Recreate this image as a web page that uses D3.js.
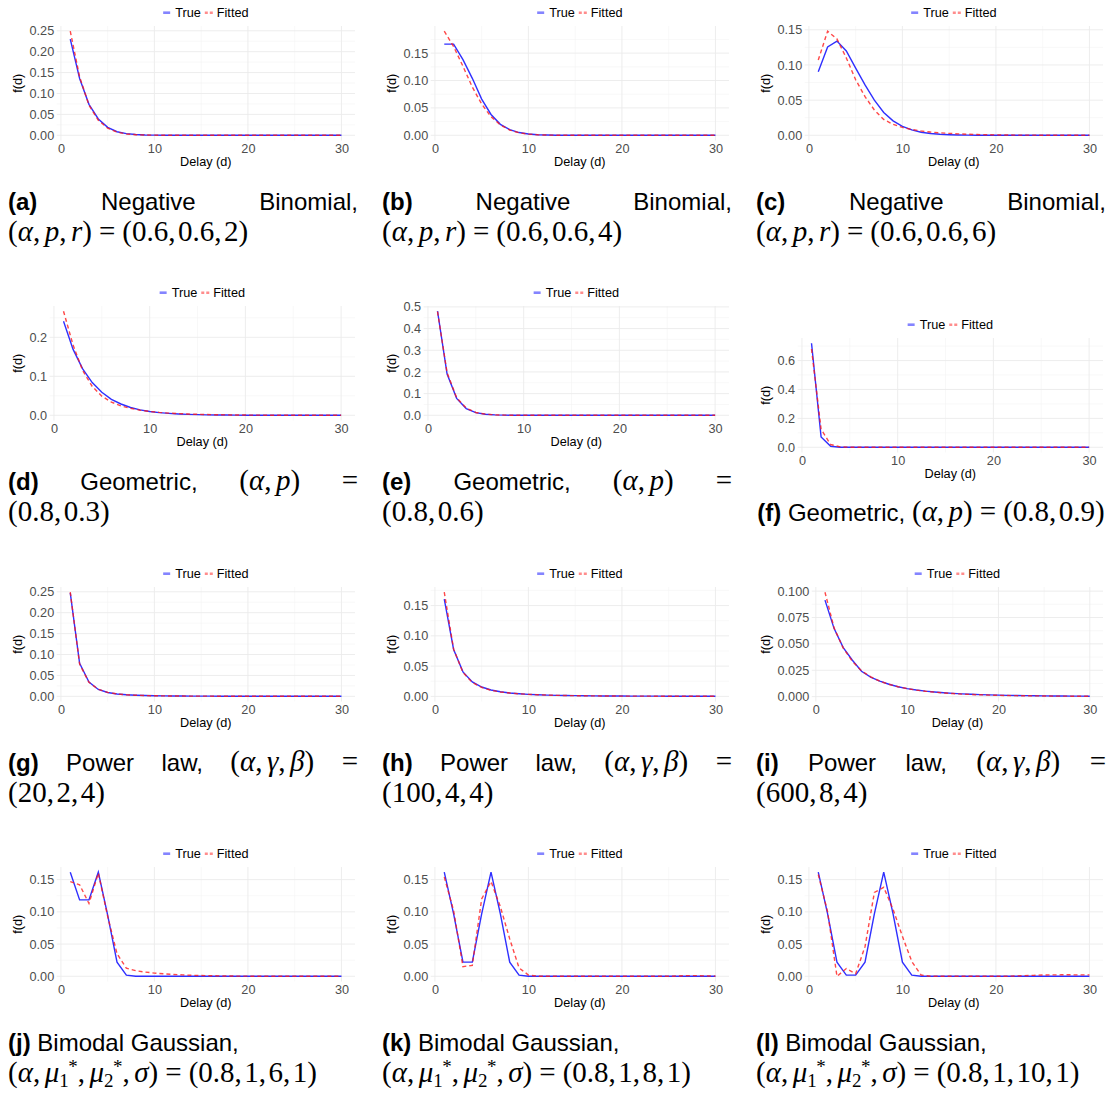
<!DOCTYPE html>
<html>
<head>
<meta charset="utf-8">
<script src="https://cdn.jsdelivr.net/npm/d3@7"></script>
<style>
  body { margin: 0; background: #fff; }
  svg text { font-family: "Liberation Sans", Arial, Helvetica, sans-serif; }
</style>
</head>
<body>
<svg id="fig" width="1116" height="1094"></svg>
<script>
// ---- data: delay grid and the true / fitted delay distributions f(d) ----
const delays = [1,2,3,4,5,6,7,8,9,10,11,12,13,14,15,16,17,18,19,20,21,22,23,24,25,26,27,28,29,30];
const xTicks = [0, 10, 20, 30];

// (a) Negative binomial, r = 2
const trueA = [0.230,0.136,0.074,0.039,0.019,0.0085,0.0040,0.0018,0.0008,0.0004,
               0.0002,0.0001,0,0,0,0,0,0,0,0, 0,0,0,0,0,0,0,0,0,0];
const fitA  = [0.249,0.140,0.072,0.036,0.017,0.0075,0.0032,0.0014,0.0006,0.0003,
               0.0001,0,0,0,0,0,0,0,0,0, 0,0,0,0,0,0,0,0,0,0];
// (b) Negative binomial, r = 4
const trueB = [0.1665,0.1665,0.138,0.104,0.066,0.038,0.020,0.0105,0.0050,0.0024,
               0.0011,0.0005,0.0002,0.0001,0,0,0,0,0,0, 0,0,0,0,0,0,0,0,0,0];
const fitB  = [0.190,0.162,0.126,0.088,0.057,0.034,0.019,0.0095,0.0046,0.0021,
               0.0009,0.0004,0.0002,0.0001,0,0,0,0,0,0, 0,0,0,0,0,0,0,0,0,0];
// (c) Negative binomial, r = 6
const trueC = [0.0905,0.1255,0.1340,0.1200,0.0955,0.0716,0.0500,0.0325,0.0205,0.0128,
               0.0076,0.0044,0.0025,0.0014,0.0008,0.0004,0.0002,0.0001,0,0, 0,0,0,0,0,0,0,0,0,0];
const fitC  = [0.107,0.148,0.137,0.110,0.079,0.055,0.036,0.0225,0.0155,0.0112,
               0.0082,0.0061,0.0046,0.0035,0.0027,0.0020,0.0015,0.0011,0.0008,0.0006,
               0.0004,0.0003,0.0002,0.0002,0.0001,0.0001,0,0,0,0];
// (d) Geometric, p = 0.3
const trueD = [0.241,0.169,0.119,0.084,0.059,0.041,0.029,0.020,0.014,0.0099,
               0.0069,0.0049,0.0034,0.0024,0.0017,0.0012,0.0008,0.0006,0.0004,0.0003,
               0.0002,0.0001,0.0001,0.0001,0,0,0,0,0,0];
const fitD  = [0.267,0.180,0.115,0.074,0.049,0.034,0.024,0.018,0.013,0.0098,
               0.0074,0.0056,0.0043,0.0033,0.0025,0.0019,0.0014,0.0011,0.0008,0.0006,
               0.0004,0.0003,0.0002,0.0001,0.0001,0,0,0,0,0];
// (e) Geometric, p = 0.6
const trueE = [0.480,0.190,0.078,0.031,0.0125,0.0050,0.0020,0.0008,0.0003,0.0001,
               0,0,0,0,0,0,0,0,0,0, 0,0,0,0,0,0,0,0,0,0];
const fitE  = [0.478,0.196,0.081,0.033,0.0130,0.0052,0.0021,0.0008,0.0003,0.0001,
               0,0,0,0,0,0,0,0,0,0, 0,0,0,0,0,0,0,0,0,0];
// (f) Geometric, p = 0.9
const trueF = [0.720,0.072,0.0072,0.0007,0.0001,0,0,0,0,0,
               0,0,0,0,0,0,0,0,0,0, 0,0,0,0,0,0,0,0,0,0];
const fitF  = [0.680,0.125,0.019,0.003,0.0005,0.0001,0,0,0,0,
               0,0,0,0,0,0,0,0,0,0, 0,0,0,0,0,0,0,0,0,0];
// (g) Power law (20, 2, 4)
const trueG = [0.2476,0.0790,0.0340,0.0165,0.0092,0.0056,0.0037,0.0026,0.0019,0.0014,
               0.0011,0.0008,0.0007,0.0005,0.0004,0.0004,0.0003,0.0003,0.0002,0.0002,
               0.0002,0.0002,0.0001,0.0001,0.0001,0.0001,0.0001,0.0001,0.0001,0.0001];
const fitG  = [0.2490,0.0770,0.0335,0.0168,0.0095,0.0058,0.0038,0.0026,0.0019,0.0014,
               0.0011,0.0008,0.0007,0.0005,0.0004,0.0004,0.0003,0.0003,0.0002,0.0002,
               0.0002,0.0001,0.0001,0.0001,0.0001,0.0001,0.0001,0.0001,0.0001,0.0001];
// (h) Power law (100, 4, 4)
const trueH = [0.1606,0.0775,0.0405,0.0240,0.0155,0.0106,0.0076,0.0057,0.0044,0.0034,
               0.0027,0.0022,0.0018,0.0015,0.0013,0.0011,0.0009,0.0008,0.0007,0.0006,
               0.0005,0.0005,0.0004,0.0004,0.0003,0.0003,0.0003,0.0002,0.0002,0.0002];
const fitH  = [0.1720,0.0780,0.0395,0.0230,0.0148,0.0102,0.0074,0.0056,0.0043,0.0034,
               0.0027,0.0022,0.0018,0.0015,0.0012,0.0010,0.0009,0.0007,0.0006,0.0005,
               0.0005,0.0004,0.0004,0.0003,0.0003,0.0003,0.0002,0.0002,0.0002,0.0002];
// (i) Power law (600, 8, 4)
const trueI = [0.0915,0.0645,0.0465,0.0345,0.0240,0.0185,0.0146,0.0117,0.0094,0.0076,
               0.0063,0.0052,0.0044,0.0037,0.0031,0.0026,0.0022,0.0019,0.0016,0.0014,
               0.0012,0.0011,0.0009,0.0008,0.0007,0.0006,0.0006,0.0005,0.0005,0.0004];
const fitI  = [0.0990,0.0650,0.0460,0.0335,0.0245,0.0188,0.0147,0.0117,0.0094,0.0076,
               0.0062,0.0051,0.0042,0.0035,0.0029,0.0024,0.0020,0.0017,0.0014,0.0012,
               0.0010,0.0009,0.0008,0.0007,0.0006,0.0005,0.0005,0.0004,0.0004,0.0003];
// (j) Bimodal Gaussian, mu2* = 6
const trueJ = [0.1615,0.1185,0.1185,0.1615,0.0950,0.0220,0.0018,0.0001,0,0,
               0,0,0,0,0,0,0,0,0,0, 0,0,0,0,0,0,0,0,0,0];
const fitJ  = [0.1470,0.1420,0.1130,0.1600,0.0930,0.0350,0.0125,0.0088,0.0065,0.0050,
               0.0038,0.0029,0.0022,0.0016,0.0012,0.0009,0.0006,0.0004,0.0003,0.0002,
               0.0001,0.0001,0,0,0,0,0,0,0,0];
// (k) Bimodal Gaussian, mu2* = 8
const trueK = [0.1615,0.0970,0.0220,0.0220,0.0970,0.1615,0.0970,0.0220,0.0018,0.0001,
               0,0,0,0,0,0,0,0,0,0, 0,0,0,0,0,0,0,0,0,0];
const fitK  = [0.1540,0.1020,0.0150,0.0170,0.1200,0.1470,0.1080,0.0580,0.0130,0.0020,
               0.0002,0,0,0,0,0,0,0,0,0, 0,0,0,0,0,0.0005,0.0010,0.0010,0.0006,0.0003];
// (l) Bimodal Gaussian, mu2* = 10
const trueL = [0.1615,0.0970,0.0220,0.0018,0.0018,0.0220,0.0970,0.1615,0.0970,0.0220,
               0.0018,0.0001,0,0,0,0,0,0,0,0, 0,0,0,0,0,0,0,0,0,0];
const fitL  = [0.1580,0.1000,0.0000,0.0120,0.0040,0.0460,0.1300,0.1380,0.1040,0.0620,
               0.0230,0.0020,0,0,0,0,0,0,0,0, 0,0.0005,0.0010,0.0015,0.0020,0.0022,0.0023,0.0023,0.0022,0.0022];

// y-axis tick labels for each panel
const ticks2a = ["0.00","0.05","0.10","0.15","0.20","0.25"];
const ticks2b = ["0.00","0.05","0.10","0.15"];
const ticksD  = ["0.0","0.1","0.2"];
const ticksE  = ["0.0","0.1","0.2","0.3","0.4","0.5"];
const ticksF  = ["0.0","0.2","0.4","0.6"];
const ticksI  = ["0.000","0.025","0.050","0.075","0.100"];

const seriesTrue = [trueA,trueB,trueC,trueD,trueE,trueF,trueG,trueH,trueI,trueJ,trueK,trueL];
const seriesFit  = [fitA,fitB,fitC,fitD,fitE,fitF,fitG,fitH,fitI,fitJ,fitK,fitL];
const yTickLabels = [ticks2a,ticks2b,ticks2b,ticksD,ticksE,ticksF,ticks2a,ticks2b,ticksI,ticks2b,ticks2b,ticks2b];
const legendLabels = ["True", "Fitted"];
const axisTitles = ["Delay (d)", "f(d)"];

// sub-captions: "**" = bold label, "$" = math, otherwise plain text
const captionText = [
  [["**(a)","Negative","Binomial,"], ["$(α,p,r)=(0.6,0.6,2)"]],
  [["**(b)","Negative","Binomial,"], ["$(α,p,r)=(0.6,0.6,4)"]],
  [["**(c)","Negative","Binomial,"], ["$(α,p,r)=(0.6,0.6,6)"]],
  [["**(d)","Geometric,","$(α,p)","$="], ["$(0.8,0.3)"]],
  [["**(e)","Geometric,","$(α,p)","$="], ["$(0.8,0.6)"]],
  [["**(f)","Geometric,","$(α,p)=(0.8,0.9)"]],
  [["**(g)","Power","law,","$(α,γ,β)","$="], ["$(20,2,4)"]],
  [["**(h)","Power","law,","$(α,γ,β)","$="], ["$(100,4,4)"]],
  [["**(i)","Power","law,","$(α,γ,β)","$="], ["$(600,8,4)"]],
  [["**(j)","Bimodal","Gaussian,"], ["$(α,μ_1^*,μ_2^*,σ)=(0.8,1,6,1)"]],
  [["**(k)","Bimodal","Gaussian,"], ["$(α,μ_1^*,μ_2^*,σ)=(0.8,1,8,1)"]],
  [["**(l)","Bimodal","Gaussian,"], ["$(α,μ_1^*,μ_2^*,σ)=(0.8,1,10,1)"]]
];
const captionAlign = [
  ["justify","left"],["justify","left"],["justify","left"],
  ["justify","left"],["justify","left"],["center"],
  ["justify","left"],["justify","left"],["justify","left"],
  ["left","left"],["left","left"],["left","left"]
];

// ---- layout ----
const SANS = "'Liberation Sans', Arial, Helvetica, sans-serif";
const SERIF = "'Liberation Serif', 'Times New Roman', Times, serif";
const AX = 12.7;          // axis / legend font size
const CAP = 24;           // caption text size
const MATH = 29;          // caption math size
const SCRIPT = 19;        // sub/superscript size
const colX = [8, 382, 756];
const rowY = [0, 280, 561, 841];
const plotDrop = [0,0,0, 0,0,32, 0,0,0, 0,0,0];
const capW = 350;

const svg = d3.select("#fig");
const blue = "#0a0aff", red = "#ff1a1a";

function textWidth(str, size, family, weight, style) {
  const t = svg.append("text").text(str)
    .style("font-size", size + "px").style("font-family", family)
    .style("font-weight", weight || "normal").style("font-style", style || "normal");
  const w = t.node().getComputedTextLength();
  t.remove();
  return w;
}

function drawPlot(k) {
  const cx = colX[k % 3];
  const ry = rowY[Math.floor(k / 3)] + plotDrop[k];
  const tv = seriesTrue[k], fv = seriesFit[k], labels = yTickLabels[k];
  const vals = labels.map(Number);
  const g = svg.append("g");

  const all = tv.concat(fv);
  const lo = d3.min(all), hi = d3.max(all), pad = (hi - lo) * 0.05;
  const top = ry + 26, bottom = ry + 140.5;
  const y = d3.scaleLinear().domain([lo - pad, hi + pad]).range([bottom, top]);

  const wLab = d3.max(labels, s => textWidth(s, AX, SANS));
  const left = cx + 21.5 + wLab + 2.5, right = cx + 347;
  const span = delays[delays.length - 1] - delays[0];
  const x = d3.scaleLinear()
    .domain([delays[0] - 0.05 * span, delays[delays.length - 1] + 0.05 * span])
    .range([left, right]);

  // grid: minor lines halfway between major breaks
  const [ylo, yhi] = y.domain();
  const step = vals[1] - vals[0];
  const yMinor = [];
  for (let v = vals[0] - step / 2; v <= yhi; v += step) if (v >= ylo) yMinor.push(v);
  const xStep = xTicks[1] - xTicks[0];
  const xMinor = [];
  for (let v = xTicks[0] - xStep / 2; v <= x.domain()[1]; v += xStep) if (v >= x.domain()[0]) xMinor.push(v);

  const grid = g.append("g");
  grid.selectAll(".ym").data(yMinor).join("line")
    .attr("x1", left).attr("x2", right).attr("y1", d => y(d)).attr("y2", d => y(d))
    .attr("stroke", "#f3f3f3").attr("stroke-width", 0.6);
  grid.selectAll(".xm").data(xMinor).join("line")
    .attr("y1", top).attr("y2", bottom).attr("x1", d => x(d)).attr("x2", d => x(d))
    .attr("stroke", "#f3f3f3").attr("stroke-width", 0.6);
  grid.selectAll(".yM").data(vals).join("line")
    .attr("x1", left).attr("x2", right).attr("y1", d => y(d)).attr("y2", d => y(d))
    .attr("stroke", "#ebebeb").attr("stroke-width", 0.9);
  grid.selectAll(".xM").data(xTicks).join("line")
    .attr("y1", top).attr("y2", bottom).attr("x1", d => x(d)).attr("x2", d => x(d))
    .attr("stroke", "#ebebeb").attr("stroke-width", 0.9);

  // axes
  const ya = g.append("g").attr("transform", `translate(${left},0)`)
    .call(d3.axisLeft(y).tickValues(vals).tickFormat((d, i) => labels[i]).tickSize(0).tickPadding(2.5));
  const xa = g.append("g").attr("transform", `translate(0,${bottom})`)
    .call(d3.axisBottom(x).tickValues(xTicks).tickFormat(d3.format("d")).tickSize(0).tickPadding(3.2));
  [ya, xa].forEach(a => {
    a.select(".domain").remove();
    a.attr("font-family", null).attr("font-size", null);
    a.selectAll("text").style("font-size", AX + "px").style("font-family", SANS).attr("fill", "#4d4d4d");
  });

  // axis titles
  const midX = (left + right) / 2, midY = (top + bottom) / 2;
  g.append("text").attr("x", midX).attr("y", ry + 165.5).attr("text-anchor", "middle")
    .style("font-size", AX + "px").attr("fill", "#000").text(axisTitles[0]);
  g.append("text").attr("transform", `translate(${cx + 10},${midY}) rotate(-90)`)
    .attr("dy", "0.35em").attr("text-anchor", "middle")
    .style("font-size", AX + "px").attr("fill", "#000").text(axisTitles[1]);

  // series
  const line = d3.line().x((d, i) => x(delays[i])).y(d => y(d));
  g.append("path").datum(tv).attr("d", line).attr("fill", "none")
    .attr("stroke", blue).attr("stroke-opacity", 0.85).attr("stroke-width", 1.4);
  g.append("path").datum(fv).attr("d", line).attr("fill", "none")
    .attr("stroke", red).attr("stroke-opacity", 0.8).attr("stroke-width", 1.4)
    .attr("stroke-dasharray", "4,3");

  // legend on top, centred over the panel
  const ly = ry + 12.7;
  const w1 = textWidth(legendLabels[0], AX, SANS), w2 = textWidth(legendLabels[1], AX, SANS);
  const total = 7 + 5 + w1 + 4 + 8 + 4 + w2;
  let lx = midX - total / 2;
  const lg = g.append("g");
  lg.append("line").attr("x1", lx).attr("x2", lx + 7).attr("y1", ly).attr("y2", ly)
    .attr("stroke", blue).attr("stroke-opacity", 0.5).attr("stroke-width", 2.6);
  lx += 12;
  lg.append("text").attr("x", lx).attr("y", ly).attr("dy", "0.35em")
    .style("font-size", AX + "px").text(legendLabels[0]);
  lx += w1 + 4;
  lg.append("line").attr("x1", lx).attr("x2", lx + 8).attr("y1", ly).attr("y2", ly)
    .attr("stroke", red).attr("stroke-opacity", 0.5).attr("stroke-width", 2.6)
    .attr("stroke-dasharray", "3,2");
  lx += 12;
  lg.append("text").attr("x", lx).attr("y", ly).attr("dy", "0.35em")
    .style("font-size", AX + "px").text(legendLabels[1]);
}

// ---- caption typesetting ----
const italicChars = new Set(Array.from("αβγμσpr"));
function mathSegs(s) {
  const ch = Array.from(s);
  const segs = [];
  const thick = 7;
  for (let i = 0; i < ch.length; i++) {
    const c = ch[i];
    if (c === "_" || c === "^") {
      let last = segs[segs.length - 1];
      if (!last || last.kind !== "script") { last = { kind: "script" }; segs.push(last); }
      if (c === "_") last.sub = ch[++i]; else last.sup = ch[++i];
    } else if (c === ",") {
      segs.push({ kind: "up", t: "," });
      if (i < ch.length - 1) segs.push({ kind: "gap", w: /[0-9]/.test(ch[i + 1]) ? 2.5 : 4.5 });
    } else if (c === "=") {
      const alone = ch.length === 1;
      if (!alone) segs.push({ kind: "gap", w: thick });
      segs.push({ kind: "up", t: "=" });
      if (!alone) segs.push({ kind: "gap", w: thick });
    } else if (italicChars.has(c)) {
      segs.push({ kind: "it", t: c });
    } else {
      const last = segs[segs.length - 1];
      if (last && last.kind === "up" && last.t !== "," && last.t !== "=") last.t += c;
      else segs.push({ kind: "up", t: c });
    }
  }
  return segs;
}

// build one word as a single text element at the origin, return {g, w}
function buildWord(parent, word) {
  const g = parent.append("g");
  const t = g.append("text").attr("fill", "#000");
  let w = 0;
  if (word.startsWith("**")) {
    t.style("font-family", SANS).style("font-size", CAP + "px").style("font-weight", "bold").text(word.slice(2));
    w = textWidth(word.slice(2), CAP, SANS, "bold");
  } else if (word.startsWith("$")) {
    t.style("font-family", SERIF).style("font-size", MATH + "px");
    let dx = 0, dy = 0;
    mathSegs(word.slice(1)).forEach(sg => {
      if (sg.kind === "gap") { dx += sg.w; w += sg.w; return; }
      if (sg.kind === "script") {
        // subscript first, then the superscript just after it
        if (sg.sub) {
          t.append("tspan").attr("dx", dx).attr("dy", dy + 5)
            .style("font-size", SCRIPT + "px").text(sg.sub);
          w += dx ? 0 : 0;
          w += textWidth(sg.sub, SCRIPT, SERIF);
          dx = 0; dy = -5;
        }
        if (sg.sup) {
          t.append("tspan").attr("dx", dx - 0.5).attr("dy", dy - 9)
            .style("font-size", SCRIPT + "px").text(sg.sup);
          w += textWidth(sg.sup, SCRIPT, SERIF) - 0.5;
          dx = 0; dy = 9;
        }
        return;
      }
      t.append("tspan").attr("dx", dx).attr("dy", dy)
        .style("font-style", sg.kind === "it" ? "italic" : "normal").text(sg.t);
      w += textWidth(sg.t, MATH, SERIF, "normal", sg.kind === "it" ? "italic" : "normal");
      dx = 0; dy = 0;
    });
  } else {
    t.style("font-family", SANS).style("font-size", CAP + "px").text(word);
    w = textWidth(word, CAP, SANS);
  }
  return { g, w };
}

function drawCaption(k) {
  const cx = colX[k % 3];
  const ry = rowY[Math.floor(k / 3)];
  const lines = captionText[k];
  const baselines = lines.length === 2 ? [209.5, 240.5] : [240.5];
  const space = CAP * 0.278;
  const cg = svg.append("g");
  lines.forEach((words, li) => {
    const align = captionAlign[k][li];
    const built = words.map(w => buildWord(cg, w));
    const sumW = d3.sum(built, b => b.w);
    const xs = [];
    if (align === "justify") {
      const gap = (capW - sumW) / (built.length - 1);
      let x = cx;
      built.forEach(b => { xs.push(x); x += b.w + gap; });
    } else {
      const tot = sumW + space * (built.length - 1);
      let x = align === "center" ? cx + (capW - tot) / 2 : cx;
      built.forEach(b => { xs.push(x); x += b.w + space; });
    }
    built.forEach((b, i) => b.g.attr("transform", `translate(${xs[i]},${ry + baselines[li]})`));
  });
}

for (let k = 0; k < 12; k++) { drawPlot(k); drawCaption(k); }
</script>
</body>
</html>
